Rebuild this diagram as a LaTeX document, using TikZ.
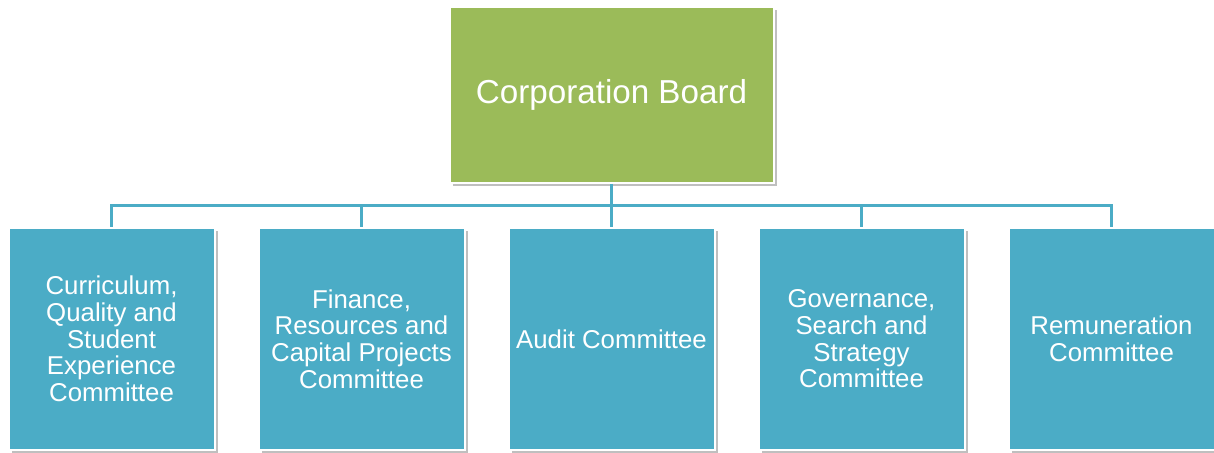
\documentclass[tikz,border=0pt]{standalone}
\usepackage{fontspec}
\setmainfont{Liberation Sans}
\usepackage{tikz}
\usetikzlibrary{positioning,calc,shadows}
\definecolor{boardgreen}{HTML}{9BBB59}
\definecolor{committeeblue}{HTML}{4BACC6}
\definecolor{linkblue}{HTML}{4BACC6}

\begin{document}
\begin{tikzpicture}[x=0.5pt,y=0.5pt,node distance=21pt,auto]
    \tikzset{
      boardnode/.style={rectangle,draw=white,line width=1pt,fill=boardgreen,text=white,inner sep=0pt,minimum width=162pt,minimum height=88pt,font=\fontsize{16.6pt}{20pt}\selectfont,drop shadow={shadow xshift=1.5pt,shadow yshift=-1.5pt,fill=black,opacity=0.25}},
      committeenode/.style={rectangle,draw=white,line width=1pt,fill=committeeblue,text=white,inner sep=0pt,minimum width=103pt,minimum height=111pt,align=center,font=\fontsize{12.9pt}{13.35pt}\selectfont,drop shadow={shadow xshift=1.5pt,shadow yshift=-1.5pt,fill=black,opacity=0.25}},
      connector/.style={draw=linkblue,line width=1.5pt}
    }
    \useasboundingbox (0,0) rectangle (1214,-453);
    \node[boardnode] (board) at (611.5,-95) {Corporation Board};
    \node[committeenode,below=21.5pt of board] (audit) {Audit Committee};
    \node[committeenode,left=of audit] (finance) {Finance,\\Resources and\\Capital Projects\\Committee};
    \node[committeenode,left=of finance] (curriculum) {Curriculum,\\Quality and\\Student\\Experience\\Committee};
    \node[committeenode,right=of audit] (governance) {Governance,\\Search and\\Strategy\\Committee};
    \node[committeenode,right=of governance] (remuneration) {Remuneration\\Committee};

    \coordinate (bus) at ($(board.south)!0.5!(audit.north)$);
    \draw[connector] (board.south) -- (bus);
    \draw[connector] (bus) -| (curriculum.north);
    \draw[connector] (bus) -| (finance.north);
    \draw[connector] (bus) -- (audit.north);
    \draw[connector] (bus) -| (governance.north);
    \draw[connector] (bus) -| (remuneration.north);
\end{tikzpicture}
\end{document}
